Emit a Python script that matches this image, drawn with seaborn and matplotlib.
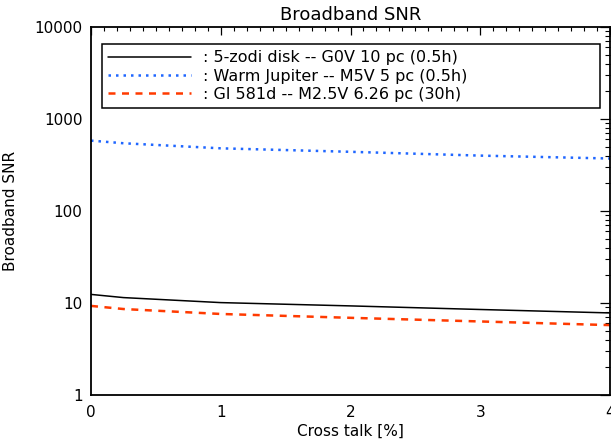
import seaborn as sns
import matplotlib.pyplot as plt
import matplotlib.ticker as mticker
import pandas as pd

# Cross talk [%] sample points
cross_talk = [0.0, 0.25, 1.0, 2.0, 3.0, 4.0]

# Broadband SNR per target
snr_zodi = [12.4, 11.45, 10.1, 9.3, 8.5, 7.8]
snr_jupiter = [582, 545, 480, 440, 400, 372]
snr_gl581d = [9.3, 8.6, 7.6, 6.9, 6.3, 5.75]

labels = [
    ": 5-zodi disk -- G0V 10 pc (0.5h)",
    ": Warm Jupiter -- M5V 5 pc (0.5h)",
    ": Gl 581d -- M2.5V 6.26 pc (30h)",
]

y_ticks = [1, 10, 100, 1000, 10000]
x_ticks = [0, 1, 2, 3, 4]

df = pd.DataFrame({
    "cross_talk": cross_talk * 3,
    "snr": snr_zodi + snr_jupiter + snr_gl581d,
    "target": [labels[0]] * 6 + [labels[1]] * 6 + [labels[2]] * 6,
})

sns.set_style("white")
plt.rcParams["font.family"] = ["DejaVu Sans"]
plt.rcParams["text.color"] = "black"
plt.rcParams["axes.labelcolor"] = "black"

fig = plt.figure(figsize=(6.11, 4.45), dpi=100)
ax = fig.add_axes([91 / 611, 1 - 395 / 445, 519 / 611, 368 / 445])

# line styles per series: (color, linewidth, dash pattern)
styles = {
    labels[0]: ("black", 1.1, None),
    labels[1]: ("#1f66ff", 1.8, [1.0, 2.0]),
    labels[2]: ("#ff3a00", 1.8, [2.8, 2.6]),
}

for lab in labels:
    color, lw, dash = styles[lab]
    sns.lineplot(
        data=df[df["target"] == lab], x="cross_talk", y="snr",
        color=color, linewidth=lw, ax=ax, label=lab,
    )
    line = ax.lines[-1]
    if dash is not None:
        line.set_dashes(dash)
        line.set_dash_capstyle("butt")

ax.set_yscale("log")
ax.set_xlim(0, 4)
ax.set_ylim(1, 10000)

ax.yaxis.set_major_locator(mticker.FixedLocator(y_ticks))
ax.yaxis.set_major_formatter(mticker.FixedFormatter([str(v) for v in y_ticks]))
ax.yaxis.set_minor_locator(mticker.LogLocator(base=10, subs=range(2, 10)))
ax.yaxis.set_minor_formatter(mticker.NullFormatter())
ax.xaxis.set_major_locator(mticker.FixedLocator(x_ticks))
ax.xaxis.set_major_formatter(mticker.FixedFormatter([str(v) for v in x_ticks]))
ax.xaxis.set_minor_locator(mticker.MultipleLocator(0.1))

ax.tick_params(axis="both", which="both", direction="in", top=True, right=True,
               colors="black", labelsize=11)
ax.tick_params(axis="x", which="major", length=6, width=0.9, pad=7)
ax.tick_params(axis="x", which="minor", length=3, width=0.8)
ax.tick_params(axis="y", which="major", length=7, width=0.9, pad=6)
ax.tick_params(axis="y", which="minor", length=3.5, width=0.8)

for sp in ax.spines.values():
    sp.set_linewidth(1.3)
    sp.set_color("black")

ax.set_title("Broadband SNR", fontsize=13, pad=5)
ax.set_xlabel("Cross talk [%]", fontsize=11, labelpad=3)
ax.set_ylabel("Broadband SNR", fontsize=11, labelpad=12)

leg = ax.legend(
    loc="upper left", bbox_to_anchor=(0.021, 0.954, 0.96, 0.0), mode="expand",
    fontsize=11.5, frameon=True, fancybox=False, edgecolor="black",
    handlelength=5.2, handletextpad=0.7, labelspacing=0.2, borderpad=0.4,
    borderaxespad=0,
)
leg.get_frame().set_linewidth(1.1)
leg.get_frame().set_alpha(None)

fig.savefig("out.png", dpi=100)
